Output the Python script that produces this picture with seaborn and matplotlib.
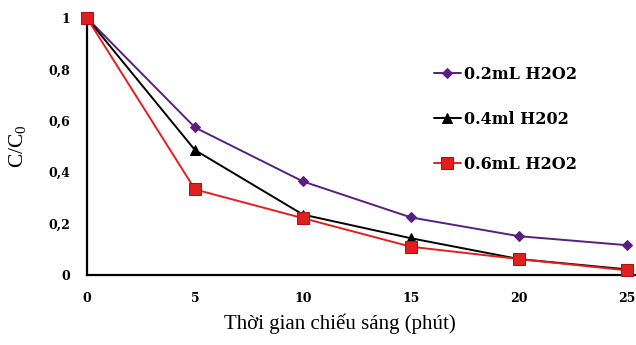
import matplotlib
matplotlib.use("Agg")
import matplotlib.pyplot as plt
import seaborn as sns
import pandas as pd
from matplotlib.ticker import FuncFormatter

time_min = [0, 5, 10, 15, 20, 25]
series_names = ["0.2mL H2O2", "0.4ml H202", "0.6mL H2O2"]
vals_02 = [1.0, 0.574, 0.364, 0.224, 0.151, 0.116]
vals_04 = [1.0, 0.486, 0.235, 0.143, 0.062, 0.022]
vals_06 = [1.0, 0.333, 0.221, 0.110, 0.062, 0.018]
x_ticks = [0, 5, 10, 15, 20, 25]
y_ticks = [0, 0.2, 0.4, 0.6, 0.8, 1.0]

sns.set_theme(style="white")
plt.rcParams['font.family'] = ['Liberation Serif', 'DejaVu Serif']
plt.rcParams['mathtext.fontset'] = 'custom'
plt.rcParams['mathtext.rm'] = 'Liberation Serif'
plt.rcParams['text.color'] = 'black'
plt.rcParams['xtick.color'] = 'black'
plt.rcParams['ytick.color'] = 'black'
plt.rcParams['axes.labelcolor'] = 'black'

rows = []
for name, vals in zip(series_names, [vals_02, vals_04, vals_06]):
    for t, v in zip(time_min, vals):
        rows.append({"t": t, "c": v, "s": name})
df = pd.DataFrame(rows)

fig = plt.figure(figsize=(6.36, 3.45), dpi=100)
ax = fig.add_axes([87/636, 70/345, 1 - 87/636, (275-18)/345])

palette = {series_names[0]: "#5a1f7d", series_names[1]: "#000000", series_names[2]: "#e02020"}
markers = {series_names[0]: "D", series_names[1]: "^", series_names[2]: "s"}
sizes_ms = {series_names[0]: 5, series_names[1]: 7, series_names[2]: 9}

for name in series_names:
    sub = df[df.s == name]
    sns.lineplot(data=sub, x="t", y="c", ax=ax, color=palette[name],
                 marker=markers[name], markersize=sizes_ms[name],
                 markeredgecolor=("#b01010" if name == series_names[2] else palette[name]),
                 linewidth=1.4, label=name, clip_on=False, zorder=3)

ax.set_xlim(0, 25.42)
ax.set_ylim(0, 1)
ax.set_xticks(x_ticks)
ax.set_yticks(y_ticks)
ax.yaxis.set_major_formatter(FuncFormatter(lambda v, p: ("%g" % round(v, 1)).replace(".", ",")))
for s in ["top", "right"]:
    ax.spines[s].set_visible(False)
for s in ["left", "bottom"]:
    ax.spines[s].set_color("black")
    ax.spines[s].set_linewidth(1.6)
ax.tick_params(axis="both", which="both", direction="out", length=2, width=1, color="black",
               labelcolor="black", labelsize=9, pad=10)
ax.tick_params(axis="x", pad=10)
for lab in ax.get_xticklabels() + ax.get_yticklabels():
    lab.set_fontweight("bold")
    lab.set_fontfamily("DejaVu Serif")

ax.set_xlabel("Thời gian chiếu sáng (phút)", fontsize=15, color="black", labelpad=6)
ax.xaxis.label.set_x((340 - 87) / 549)
ax.set_ylabel(r"C/C$_{\mathregular{0}}$", fontsize=15.5, color="black", labelpad=14)

leg = ax.legend(loc="upper left", bbox_to_anchor=(0.605, 0.87), frameon=False,
                labelspacing=1.75, handlelength=1.75, handletextpad=0.15,
                prop={"family": "DejaVu Serif", "weight": "bold", "size": 11.5})
for t in leg.get_texts():
    t.set_color("black")

fig.savefig("out.png", dpi=100, facecolor="white")
